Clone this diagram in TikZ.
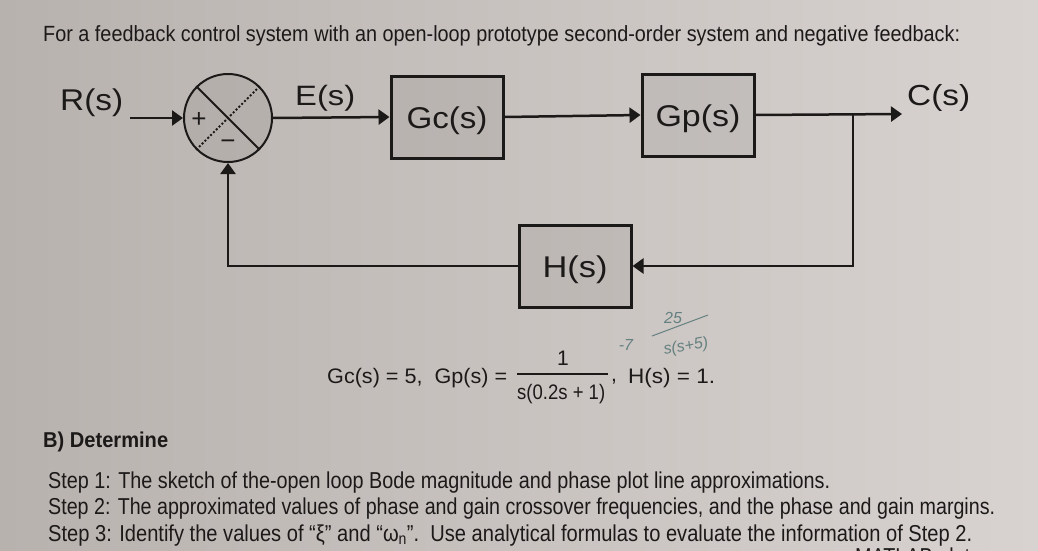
\documentclass[tikz,border=0pt]{standalone}
\usepackage{graphicx}
\usepackage{fontspec}
\setmainfont{Liberation Sans}
\usetikzlibrary{arrows.meta}
\definecolor{ink}{RGB}{28,25,25}
\definecolor{paperL}{RGB}{184,178,175}
\definecolor{paperR}{RGB}{216,211,208}
\definecolor{hand}{RGB}{100,128,128}
\newcommand{\fitw}[3]{\resizebox{#1pt}{\height}{\fontsize{#2}{#2}\selectfont #3}}
\begin{document}
\begin{tikzpicture}[x=1pt,y=-1pt,
  txt/.style={anchor=base west, inner sep=0pt, text=ink},
  block/.style={draw=ink, line width=3pt, fill=black, fill opacity=0.06, text opacity=1,
    minimum width=112pt, minimum height=82pt, inner sep=0pt, text=ink, text height=22pt, text depth=0pt},
  sumj/.style={circle, draw=ink, line width=2pt, fill=black, fill opacity=0.05, minimum size=88pt, inner sep=0pt},
  conn/.style={draw=ink, line width=2.5pt},
  arr/.style={conn, -{Triangle[length=11pt,width=15pt]}},
  handw/.style={inner sep=0pt, text=hand, font=\fontsize{16}{16}\selectfont\itshape},
  lbl/.style={anchor=base west, inner sep=0pt, text=ink}]
\shade[left color=paperL, right color=paperR] (0,0) rectangle (1038,551);
\useasboundingbox (0,0) rectangle (1038,551);
\clip (0,0) rectangle (1038,551);

% heading
\node[txt] (head) at (43,42) {\fitw{917}{22}{For a feedback control system with an open-loop prototype second-order system and negative feedback:}};

% block diagram
\node[sumj] (sum) at (228,118) {};
\draw[conn, line width=1.8pt] (sum.north west) -- (sum.south east);
\draw[conn, line width=1.8pt, dash pattern=on 2pt off 2pt] (sum.north east) -- (sum.south west);
\node[inner sep=0pt, text=ink, font=\fontsize{26}{26}\selectfont] (plus) at (199,120) {+};
\node[inner sep=0pt, text=ink, font=\fontsize{26}{26}\selectfont] (minus) at (228,145) {\textminus};

\node[block] (gc) at (447,117) {\fitw{81}{30}{Gc(s)}};
\node[block] (gp) at (698,115) {\fitw{85}{30}{Gp(s)}};
\node[block] (h) at (575,266) {\fitw{65}{30}{H(s)}};

\coordinate (rin) at (130,118);
\coordinate (branch) at (853,114);
\coordinate (cout) at (902,114);

\draw[arr] (rin) -- (sum.west);
\draw[arr] (sum.east) -- (gc.west);
\draw[arr] (gc.east) -- (gp.west);
\draw[arr] (gp.east) -- (cout);
\draw[arr] (branch) |- (h.east);
\draw[arr] (h.west) -| (sum.south);

\node[lbl] (rl) at (60,110) {\fitw{63}{30}{R(s)}};
\node[lbl] (el) at (295,105) {\fitw{60}{28}{E(s)}};
\node[lbl] (cl) at (907,105) {\fitw{63}{29}{C(s)}};

% equation
\node[txt] (eq1) at (327,383) {\fitw{180}{21}{Gc(s) = 5,\ \ Gp(s) =}};
\node[anchor=base, inner sep=0pt, text=ink, font=\fontsize{21}{21}\selectfont] (num) at (563,365) {1};
\draw[ink, line width=1.3pt] (517,374) -- (608,374);
\node[txt] (den) at (517,399) {\fitw{88}{21}{s(0.2s + 1)}};
\node[txt] (comma) at (611,381) {\fontsize{21}{21}\selectfont ,};
\node[txt] (eq2) at (628,383) {\fitw{87}{21}{H(s) = 1.}};

% handwriting
\node[handw] (hw1) at (626,345) {-7};
\node[handw] (hw2) at (673,318) {25};
\draw[hand, line width=1pt] (652,336) -- (708,315);
\node[handw, rotate=10] (hw3) at (686,347) {s(s+5)};

% part B
\node[txt] (bdet) at (43,447) {\fitw{125}{21.5}{\bfseries B) Determine}};
\node[txt] (s1) at (48,488) {\fitw{782}{23}{Step 1: The sketch of the-open loop Bode magnitude and phase plot line approximations.}};
\node[txt] (s2) at (48,514.5) {\fitw{947}{23}{Step 2: The approximated values of phase and gain crossover frequencies, and the phase and gain margins.}};
\node[txt] (s3) at (48,541) {\fitw{924}{23}{Step 3: Identify the values of “ξ” and “ω\textsubscript{n}”.\ \ Use analytical formulas to evaluate the information of Step 2.}};
\node[txt] (s4) at (855,564) {\fitw{115}{23}{MATLAB plot}};
\end{tikzpicture}
\end{document}
